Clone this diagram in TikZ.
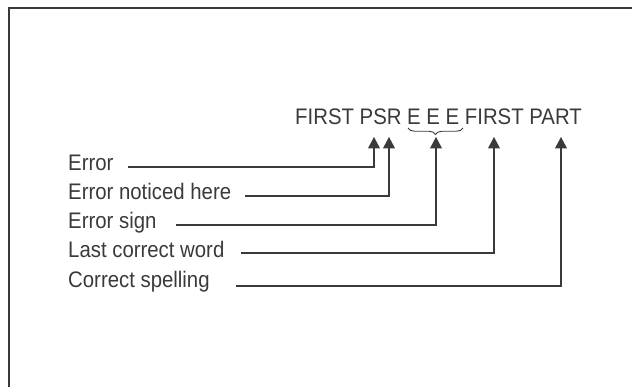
\documentclass[tikz,border=0pt]{standalone}
\usepackage{fontspec}
\setmainfont[FakeStretch=0.905]{Liberation Sans}
\usetikzlibrary{arrows.meta,decorations.pathreplacing}
\definecolor{ink}{HTML}{3A3A3A}
\begin{document}
\begin{tikzpicture}[x=1pt,y=-1pt,
  lbl/.style={anchor=base west, inner sep=0pt, font=\fontsize{22.5}{26}\selectfont, text=ink},
  lead/.style={draw=ink, line width=1.1pt, -{Triangle[width=12pt,length=11.5pt]}},
  frame/.style={draw=ink, line width=1.4pt}]
\useasboundingbox (0,0) rectangle (632,387);
\draw[frame] (9,387) -- (9,8) -- (632,8);
\node[lbl] (head) at (295,125) {FIRST PSR E E E FIRST PART};
\node[lbl] (l1) at (68,171) {Error};
\node[lbl] (l2) at (68,200) {Error noticed here};
\node[lbl] (l3) at (68,229) {Error sign};
\node[lbl] (l4) at (68,258) {Last correct word};
\node[lbl] (l5) at (68,288) {Correct spelling};
\coordinate (s1) at (128,167);
\coordinate (s2) at (245,196);
\coordinate (s3) at (176,225);
\coordinate (s4) at (241,253);
\coordinate (s5) at (236,286);
\coordinate (t1) at (374,137);
\coordinate (t2) at (389,137);
\coordinate (t3) at (436,137);
\coordinate (t4) at (494,137);
\coordinate (t5) at (561,137);
\draw[lead] (s1) -| (t1);
\draw[lead] (s2) -| (t2);
\draw[lead] (s3) -| (t3);
\draw[lead] (s4) -| (t4);
\draw[lead] (s5) -| (t5);
\draw[draw=ink, line width=0.9pt, decorate, decoration={brace, mirror, amplitude=6.5pt}] (408,128) -- (463,128);
\end{tikzpicture}
\end{document}
